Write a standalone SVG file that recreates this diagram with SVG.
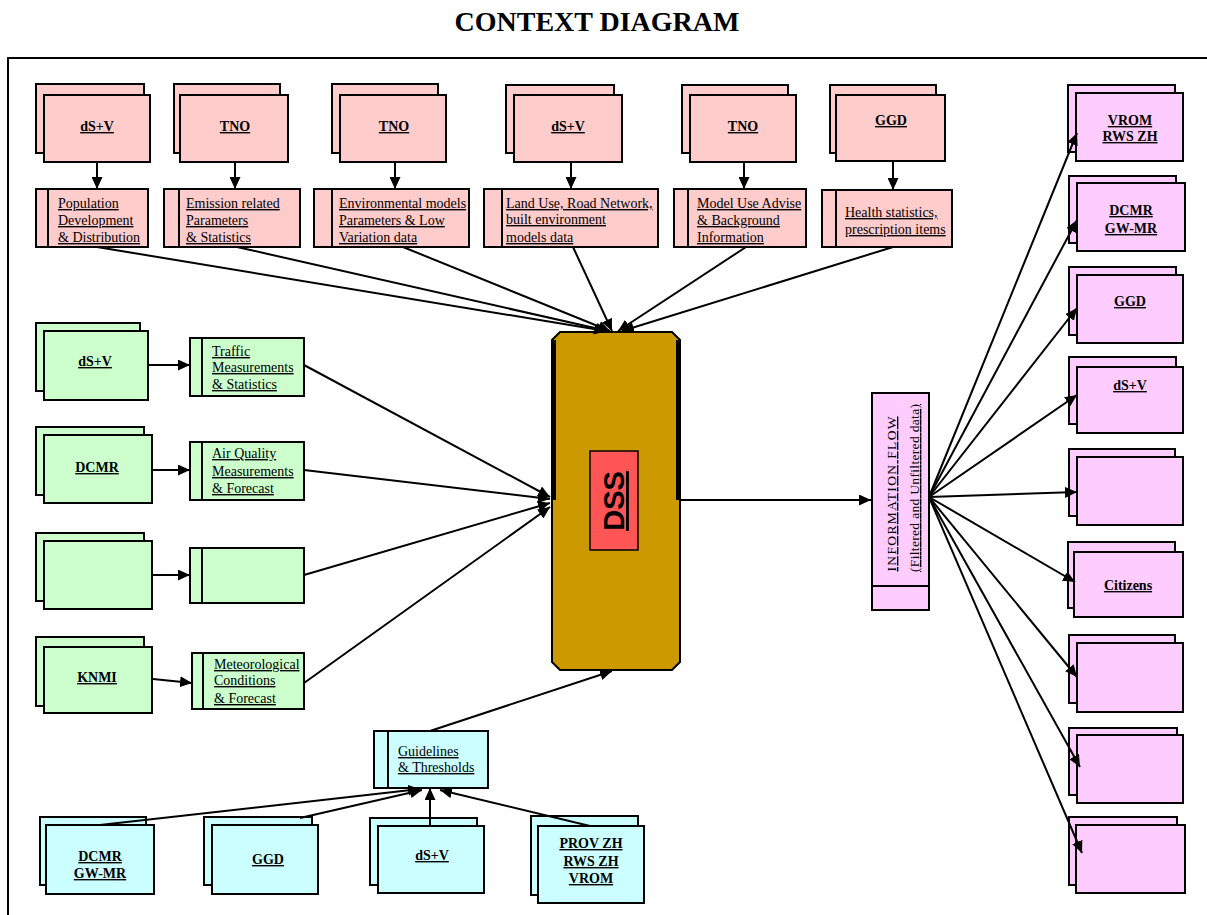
<svg xmlns="http://www.w3.org/2000/svg" width="1207" height="915" viewBox="0 0 1207 915">
<defs>
<style>
.b{stroke:#000;stroke-width:2}
.pk{fill:#FFCCCC}.gr{fill:#CCFFCC}.cy{fill:#CCFFFF}.mg{fill:#FFCCFF}
.lbl{font-family:"Liberation Serif","Times New Roman",serif;font-weight:bold;font-size:14px;text-anchor:middle;text-decoration:underline;fill:#000}
.dt{font-family:"Liberation Serif","Times New Roman",serif;font-size:14px;text-decoration:underline;fill:#000}
.c line{stroke:#000;stroke-width:2;marker-end:url(#ah)}
</style>
<marker id="ah" viewBox="0 0 12 11" refX="12" refY="5.5" markerWidth="12" markerHeight="11" markerUnits="userSpaceOnUse" orient="auto"><path d="M0,0 L12,5.5 L0,11 Z" fill="#000"/></marker>
</defs>
<rect width="1207" height="915" fill="#fff"/>
<text x="597" y="31" font-family="Liberation Serif,Times New Roman,serif" font-weight="bold" font-size="28" text-anchor="middle">CONTEXT DIAGRAM</text>
<rect x="8" y="58" width="1215" height="875" fill="none" stroke="#000" stroke-width="2"/>

<!-- top row sources -->
<g id="src-top1"><rect class="b pk" x="36" y="84" width="108" height="69"/><rect class="b pk" x="44" y="95" width="106" height="67"/><text class="lbl" x="97" y="131">dS+V</text></g>
<g id="src-top2"><rect class="b pk" x="174" y="84" width="106" height="69"/><rect class="b pk" x="180" y="95" width="108" height="67"/><text class="lbl" x="235" y="131">TNO</text></g>
<g id="src-top3"><rect class="b pk" x="332" y="84" width="106" height="69"/><rect class="b pk" x="340" y="95" width="106" height="67"/><text class="lbl" x="394" y="131">TNO</text></g>
<g id="src-top4"><rect class="b pk" x="506" y="85" width="108" height="68"/><rect class="b pk" x="514" y="95" width="108" height="67"/><text class="lbl" x="568" y="131">dS+V</text></g>
<g id="src-top5"><rect class="b pk" x="682" y="85" width="106" height="68"/><rect class="b pk" x="690" y="95" width="106" height="67"/><text class="lbl" x="743" y="131">TNO</text></g>
<g id="src-top6"><rect class="b pk" x="830" y="85" width="106" height="68"/><rect class="b pk" x="836" y="95" width="109" height="66"/><text class="lbl" x="891" y="125">GGD</text></g>

<!-- top row data -->
<g id="data-top1"><rect class="b pk" x="36" y="189" width="112" height="58"/><line class="b" x1="48" y1="189" x2="48" y2="247"/><text class="dt"><tspan x="58" y="208">Population</tspan><tspan x="58" y="225">Development</tspan><tspan x="58" y="242">&amp; Distribution</tspan></text></g>
<g id="data-top2"><rect class="b pk" x="164" y="189" width="136" height="58"/><line class="b" x1="179" y1="189" x2="179" y2="247"/><text class="dt"><tspan x="186" y="208">Emission related</tspan><tspan x="186" y="225">Parameters</tspan><tspan x="186" y="242">&amp; Statistics</tspan></text></g>
<g id="data-top3"><rect class="b pk" x="314" y="189" width="155" height="58"/><line class="b" x1="332" y1="189" x2="332" y2="247"/><text class="dt"><tspan x="339" y="208">Environmental models</tspan><tspan x="339" y="225">Parameters &amp; Low</tspan><tspan x="339" y="242">Variation  data </tspan></text></g>
<g id="data-top4"><rect class="b pk" x="484" y="189" width="174" height="58"/><line class="b" x1="502" y1="189" x2="502" y2="247"/><text class="dt"><tspan x="506" y="208">Land Use, Road Network,</tspan><tspan x="506" y="224">built environment</tspan><tspan x="506" y="242">models data</tspan></text></g>
<g id="data-top5"><rect class="b pk" x="674" y="189" width="132" height="58"/><line class="b" x1="688" y1="189" x2="688" y2="247"/><text class="dt"><tspan x="697" y="208">Model Use Advise</tspan><tspan x="697" y="225">&amp; Background</tspan><tspan x="697" y="242">Information</tspan></text></g>
<g id="data-top6"><rect class="b pk" x="822" y="190" width="130" height="57"/><line class="b" x1="836" y1="190" x2="836" y2="247"/><text class="dt"><tspan x="845" y="217">Health statistics,</tspan><tspan x="845" y="234">prescription items</tspan></text></g>

<!-- left green -->
<g id="src-left1"><rect class="b gr" x="36" y="323" width="104" height="68"/><rect class="b gr" x="44" y="331" width="104" height="69"/><text class="lbl" x="95" y="366">dS+V</text></g>
<g id="src-left2"><rect class="b gr" x="36" y="427" width="108" height="68"/><rect class="b gr" x="44" y="435" width="108" height="68"/><text class="lbl" x="97" y="472">DCMR</text></g>
<g id="src-left3"><rect class="b gr" x="36" y="533" width="108" height="68"/><rect class="b gr" x="44" y="541" width="108" height="68"/></g>
<g id="src-left4"><rect class="b gr" x="36" y="637" width="108" height="69"/><rect class="b gr" x="44" y="647" width="108" height="66"/><text class="lbl" x="97" y="682">KNMI</text></g>

<g id="data-left1"><rect class="b gr" x="190" y="338" width="114" height="58"/><line class="b" x1="202" y1="338" x2="202" y2="396"/><text class="dt"><tspan x="212" y="356">Traffic</tspan><tspan x="212" y="372">Measurements</tspan><tspan x="212" y="389">&amp; Statistics</tspan></text></g>
<g id="data-left2"><rect class="b gr" x="190" y="442" width="114" height="58"/><line class="b" x1="202" y1="442" x2="202" y2="500"/><text class="dt"><tspan x="212" y="458">Air Quality</tspan><tspan x="212" y="476">Measurements</tspan><tspan x="212" y="493">&amp; Forecast</tspan></text></g>
<g id="data-left3"><rect class="b gr" x="190" y="548" width="114" height="55"/><line class="b" x1="202" y1="548" x2="202" y2="603"/></g>
<g id="data-left4"><rect class="b gr" x="192" y="653" width="112" height="56"/><line class="b" x1="203" y1="653" x2="203" y2="709"/><text class="dt"><tspan x="214" y="669">Meteorological</tspan><tspan x="214" y="685">Conditions</tspan><tspan x="214" y="703">&amp; Forecast</tspan></text></g>

<!-- bottom cyan -->
<g id="guidelines"><rect class="b cy" x="374" y="731" width="114" height="57"/><line class="b" x1="388" y1="731" x2="388" y2="788"/><text class="dt"><tspan x="398" y="756">Guidelines</tspan><tspan x="398" y="772">&amp; Thresholds</tspan></text></g>
<g id="src-bot1"><rect class="b cy" x="40" y="817" width="106" height="68"/><rect class="b cy" x="46" y="825" width="108" height="69"/><text class="lbl" x="100" y="861">DCMR</text><text class="lbl" x="100" y="878">GW-MR</text></g>
<g id="src-bot2"><rect class="b cy" x="204" y="817" width="108" height="68"/><rect class="b cy" x="212" y="825" width="106" height="69"/><text class="lbl" x="268" y="864">GGD</text></g>
<g id="src-bot3"><rect class="b cy" x="370" y="818" width="107" height="67"/><rect class="b cy" x="378" y="826" width="106" height="67"/><text class="lbl" x="432" y="860">dS+V</text></g>
<g id="src-bot4"><rect class="b cy" x="531" y="816" width="107" height="79"/><rect class="b cy" x="538" y="826" width="106" height="77"/><text class="lbl" x="591" y="848">PROV ZH</text><text class="lbl" x="591" y="866">RWS ZH</text><text class="lbl" x="591" y="883">VROM</text></g>

<!-- DSS -->
<g id="dss">
<path d="M560,332 H672 L680,340 V662 L672,670 H560 L552,662 V340 Z" fill="#CC9900" stroke="#000" stroke-width="2"/>
<line x1="554" y1="340" x2="554" y2="500" stroke="#000" stroke-width="4"/>
<line x1="678" y1="340" x2="678" y2="500" stroke="#000" stroke-width="4"/>
<rect x="590" y="451" width="48" height="99" fill="#FF5555" stroke="#000" stroke-width="1.5"/>
<text transform="translate(624,501) rotate(-90)" font-family="Liberation Sans,Arial,sans-serif" font-weight="bold" font-size="29" text-anchor="middle" text-decoration="underline">DSS</text>
</g>

<!-- info flow -->
<g id="info-flow"><rect class="b mg" x="872" y="393" width="57" height="217"/><line class="b" x1="872" y1="586" x2="929" y2="586"/>
<text transform="translate(896,494) rotate(-90)" font-family="Liberation Serif,Times New Roman,serif" font-size="13.5" text-anchor="middle" text-decoration="underline" textLength="155" lengthAdjust="spacing">INFORMATION FLOW</text>
<text transform="translate(919,488) rotate(-90)" font-family="Liberation Serif,Times New Roman,serif" font-size="13.5" text-anchor="middle" text-decoration="underline" textLength="168" lengthAdjust="spacing">(Filtered and Unfiltered data)</text>
</g>

<!-- right magenta -->
<g id="dst1"><rect class="b mg" x="1068" y="85" width="107" height="67"/><rect class="b mg" x="1076" y="93" width="107" height="68"/><text class="lbl" x="1130" y="125">VROM</text><text class="lbl" x="1130" y="141">RWS ZH</text></g>
<g id="dst2"><rect class="b mg" x="1069" y="176" width="107" height="67"/><rect class="b mg" x="1077" y="183" width="108" height="68"/><text class="lbl" x="1131" y="215">DCMR</text><text class="lbl" x="1131" y="233">GW-MR</text></g>
<g id="dst3"><rect class="b mg" x="1069" y="267" width="107" height="68"/><rect class="b mg" x="1077" y="275" width="106" height="68"/><text class="lbl" x="1130" y="306">GGD</text></g>
<g id="dst4"><rect class="b mg" x="1069" y="357" width="107" height="67"/><rect class="b mg" x="1077" y="367" width="106" height="66"/><text class="lbl" x="1130" y="390">dS+V</text></g>
<g id="dst5"><rect class="b mg" x="1069" y="449" width="106" height="67"/><rect class="b mg" x="1077" y="457" width="106" height="68"/></g>
<g id="dst6"><rect class="b mg" x="1068" y="542" width="107" height="66"/><rect class="b mg" x="1074" y="552" width="109" height="65"/><text class="lbl" x="1128" y="590">Citizens</text></g>
<g id="dst7"><rect class="b mg" x="1069" y="635" width="106" height="68"/><rect class="b mg" x="1077" y="643" width="106" height="69"/></g>
<g id="dst8"><rect class="b mg" x="1069" y="728" width="108" height="67"/><rect class="b mg" x="1077" y="735" width="106" height="68"/></g>
<g id="dst9"><rect class="b mg" x="1069" y="817" width="108" height="68"/><rect class="b mg" x="1076" y="825" width="109" height="68"/></g>

<!-- connectors -->
<g id="connectors" class="c">
<line x1="97" y1="162" x2="97" y2="189"/>
<line x1="235" y1="162" x2="235" y2="189"/>
<line x1="395" y1="162" x2="395" y2="189"/>
<line x1="571" y1="162" x2="571" y2="189"/>
<line x1="744" y1="162" x2="744" y2="189"/>
<line x1="893" y1="161" x2="893" y2="190"/>

<line x1="97" y1="247" x2="606" y2="331"/>
<line x1="237" y1="247" x2="608" y2="331"/>
<line x1="403" y1="247" x2="610" y2="331"/>
<line x1="573" y1="247" x2="612" y2="331"/>
<line x1="746" y1="247" x2="618" y2="331"/>
<line x1="893" y1="247" x2="622" y2="331"/>

<line x1="148" y1="365" x2="190" y2="365"/>
<line x1="152" y1="470" x2="190" y2="470"/>
<line x1="152" y1="575" x2="190" y2="575"/>
<line x1="153" y1="679" x2="192" y2="683"/>

<line x1="304" y1="365" x2="550" y2="497"/>
<line x1="304" y1="470" x2="550" y2="499"/>
<line x1="304" y1="575" x2="550" y2="503"/>
<line x1="304" y1="683" x2="550" y2="507"/>

<line x1="430" y1="731" x2="612" y2="671"/>

<line x1="100" y1="825" x2="420" y2="789"/>
<line x1="300" y1="818" x2="422" y2="790"/>
<line x1="430" y1="826" x2="430" y2="788"/>
<line x1="590" y1="826" x2="440" y2="790"/>

<line x1="680" y1="500" x2="871" y2="500"/>

<line x1="929" y1="497" x2="1077" y2="133"/>
<line x1="929" y1="497" x2="1077" y2="220"/>
<line x1="929" y1="497" x2="1077" y2="308"/>
<line x1="929" y1="497" x2="1077" y2="395"/>
<line x1="929" y1="497" x2="1077" y2="492"/>
<line x1="929" y1="497" x2="1075" y2="582"/>
<line x1="929" y1="497" x2="1077" y2="677"/>
<line x1="929" y1="497" x2="1080" y2="767"/>
<line x1="929" y1="497" x2="1082" y2="853"/>
</g>
</svg>
